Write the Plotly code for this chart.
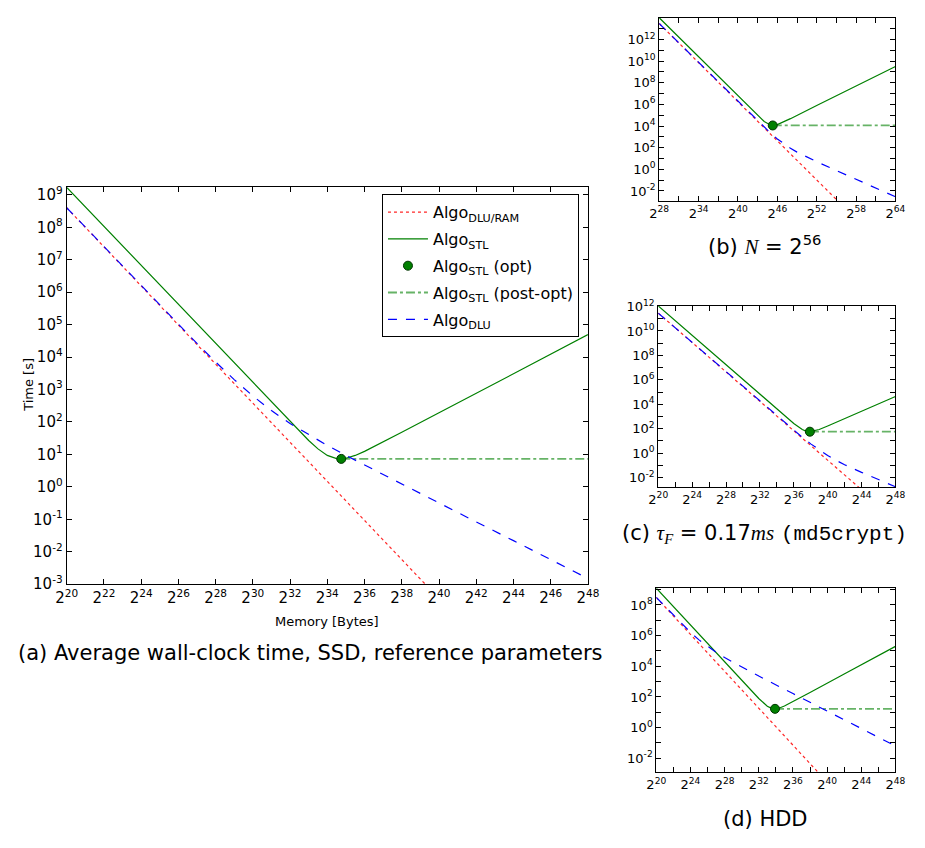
import plotly.graph_objects as go

# ---------------- data (exponent of 2 for memory, seconds for time) ----------------
# (a) SSD, reference parameters
a_x_red = [20, 40]
a_y_red = [4.0e8, 3.6e-4]
a_x_dlu = [20, 22, 24, 26, 27, 28, 29, 30, 31, 32, 33, 34, 35, 36, 38, 40, 42, 44, 46, 48]
a_y_dlu = [4.0e8, 2.5e7, 1.57e6, 1.01e5, 2.63e4, 7.06e3, 2.02e3, 632, 224, 90, 40, 18.9, 9.3, 4.7,
           1.2, 0.32, 0.083, 0.022, 0.0058, 0.0015]
a_x_stl = [20, 24, 28, 30, 31, 32, 32.5, 33, 33.5, 34, 34.5, 34.75, 35, 35.5, 36, 37, 38, 40, 44, 48]
a_y_stl = [1.7e9, 6.64e6, 2.6e4, 1.62e3, 405, 102, 51.8, 26.8, 14.8, 9.3, 7.4, 7.27, 7.6, 9.3, 12.4,
           24, 48, 191, 3.06e3, 4.9e4]
a_opt_x = [34.75]
a_opt_y = [7.27]
a_post_x = [34.75, 48]
a_post_y = [7.27, 7.27]

# (b) N = 2^56
b_x_red = [28, 56]
b_y_red = [2.95e13, 4.1e-4]
b_x_dlu = [28, 34, 40, 42, 44, 45, 46, 47, 48, 49, 50, 52, 54, 56, 58, 60, 62, 64]
b_y_dlu = [2.95e13, 7.2e9, 1.79e6, 1.15e5, 7.6e3, 2.13e3, 646, 222, 87, 39, 19, 5.1, 1.45, 0.42,
           0.12, 0.035, 0.01, 0.0029]
b_x_stl = [28, 34, 40, 42, 43, 44, 45, 45.3, 45.5, 46, 47, 48, 52, 56, 64]
b_y_stl = [1e14, 2.45e10, 6.0e6, 3.7e5, 9.5e4, 2.6e4, 1.19e4, 1.13e4, 1.15e4, 1.35e4, 2.44e4,
           4.8e4, 7.8e5, 1.23e7, 3.16e9]
b_opt_x = [45.3]
b_opt_y = [1.13e4]
b_post_x = [45.3, 64]
b_post_y = [1.13e4, 1.13e4]

# (c) tau_F = 0.17 ms (md5crypt)
c_x_red = [20, 45]
c_y_red = [2.9e11, 2.6e-4]
c_x_dlu = [20, 26, 30, 34, 36, 37, 38, 39, 40, 41, 42, 44, 46, 48]
c_y_dlu = [2.9e11, 7.1e7, 2.8e5, 1.14e3, 74, 20, 5.8, 1.8, 0.65, 0.26, 0.115, 0.027, 0.0068, 0.0018]
c_x_stl = [20, 26, 30, 34, 36, 37, 37.5, 37.9, 38.5, 39, 40, 42, 48]
c_y_stl = [1.12e12, 2.75e8, 1.07e6, 4.2e3, 273, 86, 62, 57.6, 67, 87, 167, 661, 4.3e4]
c_opt_x = [37.9]
c_opt_y = [57.6]
c_post_x = [37.9, 48]
c_post_y = [57.6, 57.6]

# (d) HDD
d_x_red = [20, 40]
d_y_red = [3.1e8, 2.8e-4]
d_x_dlu = [20, 22, 23, 24, 25, 26, 27, 28, 30, 32, 36, 40, 44, 48]
d_y_dlu = [3.16e8, 2.1e7, 5.6e6, 1.64e6, 5.3e5, 1.93e5, 8.1e4, 3.7e4, 8.8e3, 2.3e3, 166, 12, 0.87, 0.063]
d_x_stl = [20, 24, 28, 30, 32, 33, 33.5, 33.9, 34.5, 35, 36, 38, 42, 48]
d_y_stl = [1.26e9, 4.9e6, 1.9e4, 1.2e3, 79, 25, 18, 16.8, 19.7, 25.7, 49, 195, 3.1e3, 2.0e5]
d_opt_x = [33.9]
d_opt_y = [16.8]
d_post_x = [33.9, 48]
d_post_y = [16.8, 16.8]

# tick exponents
a_xticks = list(range(20, 49, 2))
a_yticks = list(range(-3, 10))
b_xticks = list(range(28, 65, 3))
b_yticks = list(range(-2, 14))
c_xticks = list(range(20, 49, 2))
c_yticks = list(range(-2, 13))
d_xticks = list(range(20, 49, 2))
d_yticks = list(range(-2, 10))

legend_names = ["Algo<sub>DLU/RAM</sub>", "Algo<sub>STL</sub>", "Algo<sub>STL</sub> (opt)",
                "Algo<sub>STL</sub> (post-opt)", "Algo<sub>DLU</sub>"]

RED = "rgba(255,0,0,0.85)"
GREEN = "#008000"
GREEN_LIGHT = "rgba(0,128,0,0.6)"
BLUE = "#0000FF"
FONT = "DejaVu Sans"
SERIF = "Liberation Serif"
MONO = "Liberation Mono"

fig = go.Figure()


def add_panel(n, xr, yr, xs, ys, xo, yo, xp, yp, xd, yd, show):
    xa = "x" if n == 1 else f"x{n}"
    ya = "y" if n == 1 else f"y{n}"
    common = dict(xaxis=xa, yaxis=ya)
    fig.add_trace(go.Scatter(x=xr, y=yr, mode="lines", name=legend_names[0], legendgroup="g0",
                             showlegend=show, line=dict(color=RED, width=1.2, dash="dot"), **common))
    fig.add_trace(go.Scatter(x=xs, y=ys, mode="lines", name=legend_names[1], legendgroup="g1",
                             showlegend=show, line=dict(color=GREEN, width=1.2), **common))
    fig.add_trace(go.Scatter(x=xp, y=yp, mode="lines", name=legend_names[3], legendgroup="g3",
                             showlegend=False, line=dict(color=GREEN_LIGHT, width=1.8, dash="dashdot"),
                             **common))
    fig.add_trace(go.Scatter(x=xd, y=yd, mode="lines", name=legend_names[4], legendgroup="g4",
                             showlegend=False, line=dict(color=BLUE, width=1.2, dash="dash"), **common))
    fig.add_trace(go.Scatter(x=xo, y=yo, mode="markers", name=legend_names[2], legendgroup="g2",
                             showlegend=show,
                             marker=dict(color=GREEN, size=9, line=dict(color="#003300", width=1)),
                             **common))
    if show:
        fig.add_trace(go.Scatter(x=[None], y=[None], mode="lines", name=legend_names[3],
                                 legendgroup="g3", showlegend=True,
                                 line=dict(color=GREEN_LIGHT, width=1.8, dash="dashdot"), **common))
        fig.add_trace(go.Scatter(x=[None], y=[None], mode="lines", name=legend_names[4],
                                 legendgroup="g4", showlegend=True,
                                 line=dict(color=BLUE, width=1.2, dash="dash"), **common))


add_panel(1, a_x_red, a_y_red, a_x_stl, a_y_stl, a_opt_x, a_opt_y, a_post_x, a_post_y, a_x_dlu, a_y_dlu, True)
add_panel(2, b_x_red, b_y_red, b_x_stl, b_y_stl, b_opt_x, b_opt_y, b_post_x, b_post_y, b_x_dlu, b_y_dlu, False)
add_panel(3, c_x_red, c_y_red, c_x_stl, c_y_stl, c_opt_x, c_opt_y, c_post_x, c_post_y, c_x_dlu, c_y_dlu, False)
add_panel(4, d_x_red, d_y_red, d_x_stl, d_y_stl, d_opt_x, d_opt_y, d_post_x, d_post_y, d_x_dlu, d_y_dlu, False)

W, H = 925, 848


def px_x(a, b):
    return [a / W, b / W]


def px_y(top, bottom):
    return [1 - bottom / H, 1 - top / H]


def xaxis_cfg(dom, rng, ticks, label_every, fsize, anchor):
    txt = [f"2<sup>{t}</sup>" if (t - ticks[0]) % label_every == 0 else "" for t in ticks]
    return dict(domain=dom, range=rng, tickmode="array", tickvals=ticks, ticktext=txt,
                ticks="inside", ticklen=5, tickcolor="black", showline=True, linecolor="black",
                linewidth=1, mirror="ticks", showgrid=False, zeroline=False, anchor=anchor,
                tickfont=dict(family=FONT, size=fsize, color="black"))


def yaxis_cfg(dom, rng, ticks, label_every, fsize, anchor):
    vals = [10.0 ** t for t in ticks]
    txt = [f"10<sup>{t}</sup>" if (t % label_every == 0) else "" for t in ticks]
    return dict(domain=dom, range=rng, type="log", tickmode="array", tickvals=vals, ticktext=txt,
                ticks="inside", ticklen=5, tickcolor="black", showline=True, linecolor="black",
                linewidth=1, mirror="ticks", showgrid=False, zeroline=False, anchor=anchor,
                tickfont=dict(family=FONT, size=fsize, color="black"))


fig.update_layout(
    width=W, height=H, autosize=False,
    margin=dict(l=0, r=0, t=0, b=0),
    paper_bgcolor="white", plot_bgcolor="white",
    font=dict(family=FONT, color="black"),
    xaxis=xaxis_cfg(px_x(57, 591), [20, 48], a_xticks, 2, 15, "y"),
    yaxis=yaxis_cfg(px_y(183, 588), [-3, 9.23], a_yticks, 1, 15, "x"),
    xaxis2=xaxis_cfg(px_x(664, 906), [28, 64], b_xticks, 6, 13, "y2"),
    yaxis2=yaxis_cfg(px_y(10, 197), [-2.93, 14.0], b_yticks, 2, 13, "x2"),
    xaxis3=xaxis_cfg(px_x(663, 906), [20, 48], c_xticks, 4, 13, "y3"),
    yaxis3=yaxis_cfg(px_y(304, 489), [-2.78, 12.05], c_yticks, 2, 13, "x3"),
    xaxis4=xaxis_cfg(px_x(661, 906), [20, 48], d_xticks, 4, 13, "y4"),
    yaxis4=yaxis_cfg(px_y(592, 780), [-2.92, 9.1], d_yticks, 2, 13, "x4"),
    showlegend=True,
    legend=dict(x=380 / W, y=1 - 190 / H, xanchor="left", yanchor="top",
                bgcolor="white", bordercolor="black", borderwidth=1,
                font=dict(family=FONT, size=16, color="black"),
                tracegroupgap=3, traceorder="grouped", itemwidth=40),
)

# axis titles
fig.add_annotation(text="Memory [Bytes]", x=324 / W, y=1 - 626 / H, xref="paper", yref="paper",
                   xanchor="center", yanchor="middle", showarrow=False,
                   font=dict(family=FONT, size=13, color="black"))
fig.add_annotation(text="Time [s]", x=18 / W, y=1 - 385 / H, xref="paper", yref="paper",
                   xanchor="center", yanchor="middle", showarrow=False, textangle=-90,
                   font=dict(family=FONT, size=13, color="black"))

cap_font = dict(family=FONT, size=21, color="black")
captions = [
    ("(a) Average wall-clock time, SSD, reference parameters", 306, 658),
    (f"(b) <span style='font-family:{SERIF}'><i>N</i></span> = 2<sup>56</sup>", 772, 242),
    (f"(c) <span style='font-family:{SERIF}'><i>τ<sub>F</sub></i></span> = 0.17"
     f"<span style='font-family:{SERIF}'><i>ms</i></span> "
     f"<span style='font-family:{MONO}'>(md5crypt)</span>", 772, 537),
    ("(d) HDD", 773, 828),
]
for text, cx, cy in captions:
    fig.add_annotation(text=text, x=cx / W, y=1 - cy / H, xref="paper", yref="paper",
                       xanchor="center", yanchor="middle", showarrow=False, font=cap_font)

fig.write_html("out.html", config={"displayModeBar": False},
               post_script="document.body.style.margin='0';document.body.style.padding='0';")
